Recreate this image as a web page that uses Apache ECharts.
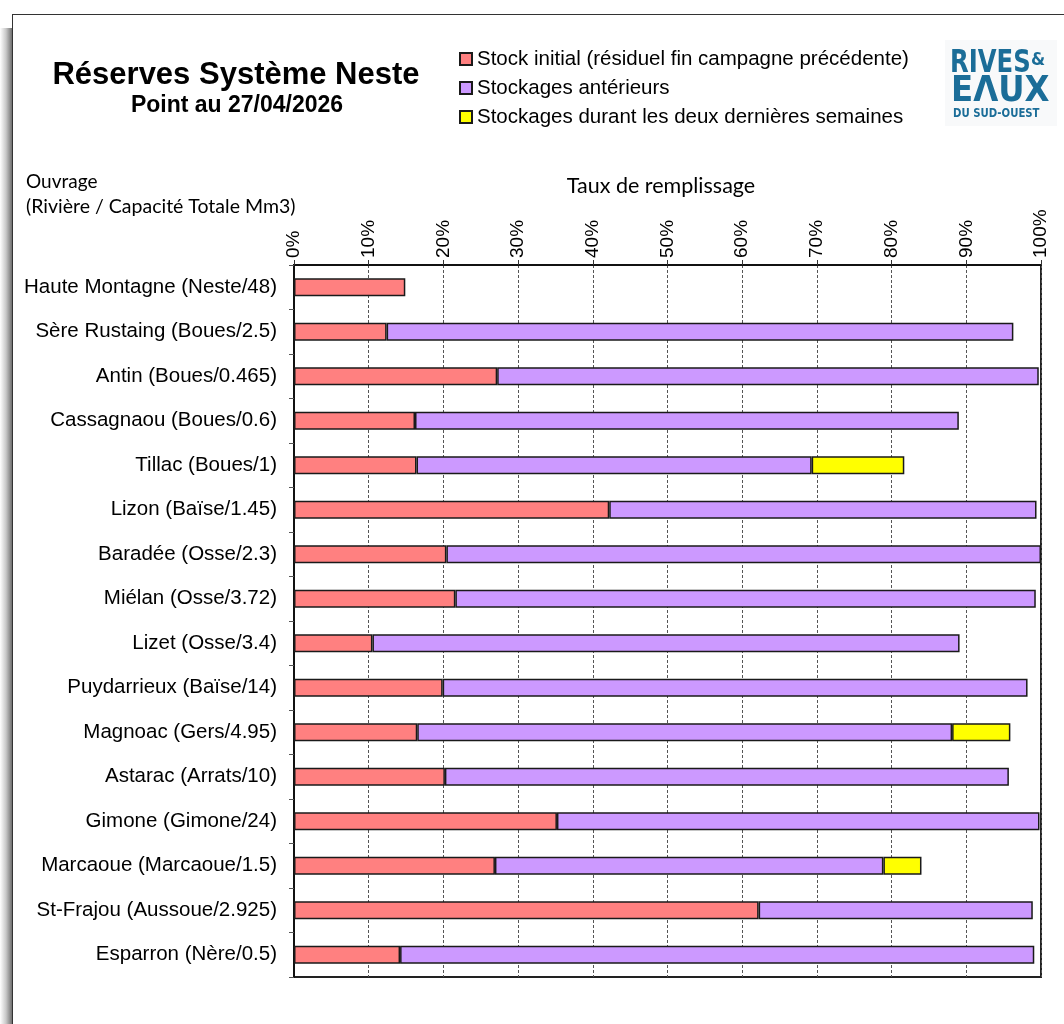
<!DOCTYPE html>
<html>
<head>
<meta charset="utf-8">
<script src="https://cdn.jsdelivr.net/npm/echarts@6/dist/echarts.min.js"></script>
<style>html,body{margin:0;padding:0;background:#fff;}#c{width:1064px;height:1024px;}</style>
</head>
<body>
<div id="c"></div>
<script>
const categories = [
  "Haute Montagne (Neste/48)",
  "Sère Rustaing (Boues/2.5)",
  "Antin (Boues/0.465)",
  "Cassagnaou (Boues/0.6)",
  "Tillac (Boues/1)",
  "Lizon (Baïse/1.45)",
  "Baradée (Osse/2.3)",
  "Miélan (Osse/3.72)",
  "Lizet (Osse/3.4)",
  "Puydarrieux (Baïse/14)",
  "Magnoac (Gers/4.95)",
  "Astarac (Arrats/10)",
  "Gimone (Gimone/24)",
  "Marcaoue (Marcaoue/1.5)",
  "St-Frajou (Aussoue/2.925)",
  "Esparron (Nère/0.5)"
];
const stockInitial = [14.9, 12.4, 27.2, 16.2, 16.4, 42.2, 20.4, 21.6, 10.5, 19.9, 16.5, 20.2, 35.2, 26.9, 62.2, 14.2];
const stockagesAnterieurs = [null, 83.9, 72.5, 72.8, 52.9, 57.2, 79.6, 77.7, 78.6, 78.3, 71.6, 75.5, 64.6, 52.0, 36.7, 84.9];
const stockagesRecents = [null, null, null, null, 12.4, null, null, null, null, null, 7.8, null, null, 5.1, null, null];
const xTicks = [0, 10, 20, 30, 40, 50, 60, 70, 80, 90, 100];
const seriesNames = [
  "Stock initial (résiduel fin campagne précédente)",
  "Stockages antérieurs",
  "Stockages durant les deux dernières semaines"
];
const seriesColors = ["#FF8080", "#CC99FF", "#FFFF00"];

const chart = echarts.init(document.getElementById('c'), null, {renderer: 'canvas'});
const barStyle = (c) => ({color: c, borderColor: '#1a1a1a', borderWidth: 1.5});
const mkSeries = (name, data, color) => ({
  name: name, type: 'bar', stack: 'total', data: data, barWidth: 18,
  itemStyle: barStyle(color), emphasis: {disabled: true}
});
const ARIAL = '"Liberation Sans", Arial, sans-serif';
const LOGO = '#1b6d98';

chart.setOption({
  animation: false,
  backgroundColor: '#ffffff',
  graphic: [
    {type: 'rect', left: 0, top: 28, shape: {width: 12, height: 1000},
     style: {fill: new echarts.graphic.LinearGradient(0, 0, 1, 0, [
       {offset: 0, color: '#ffffff'}, {offset: 0.5, color: '#c8c8c8'}, {offset: 1, color: '#707070'}])}},
    {type: 'line', shape: {x1: 12.5, y1: 14, x2: 12.5, y2: 1024}, style: {stroke: '#333', lineWidth: 1}},
    {type: 'line', shape: {x1: 12, y1: 14.5, x2: 1064, y2: 14.5}, style: {stroke: '#333', lineWidth: 1}},
    {type: 'text', x: 236, y: 75, style: {text: 'Réserves Système Neste', font: 'bold 31px ' + ARIAL, fill: '#000', align: 'center', verticalAlign: 'middle'}},
    {type: 'text', x: 237, y: 106, style: {text: 'Point au 27/04/2026', font: 'bold 23px ' + ARIAL, fill: '#000', align: 'center', verticalAlign: 'middle'}},
    {type: 'text', x: 26, y: 182, style: {text: 'Ouvrage', font: '19px Lato, sans-serif', fill: '#000', align: 'left', verticalAlign: 'middle'}},
    {type: 'text', x: 26, y: 207, style: {text: '(Rivière / Capacité Totale Mm3)', font: '19.5px Lato, sans-serif', fill: '#000', align: 'left', verticalAlign: 'middle'}},
    {type: 'text', x: 661, y: 186, style: {text: 'Taux de remplissage', font: '21.5px Lato, sans-serif', fill: '#000', align: 'center', verticalAlign: 'middle'}},
    {type: 'rect', shape: {x: 945, y: 40, width: 112, height: 86}, style: {fill: '#f8f9fa'}},
    {type: 'text', x: 950, y: 64, scaleX: 0.76, style: {text: 'RIVES', font: 'bold 32px "DejaVu Sans", sans-serif', fill: LOGO, align: 'left', verticalAlign: 'middle'}},
    {type: 'text', x: 1031, y: 60, scaleX: 0.9, style: {text: '&', font: 'bold 18px "DejaVu Sans", sans-serif', fill: LOGO, align: 'left', verticalAlign: 'middle'}},
    {type: 'text', x: 951, y: 92, scaleX: 0.9, style: {text: 'EΛUX', font: 'bold 36px "DejaVu Sans", sans-serif', fill: LOGO, align: 'left', verticalAlign: 'middle'}},
    {type: 'text', x: 953, y: 114, scaleX: 0.78, style: {text: 'DU SUD-OUEST', font: 'bold 13px "DejaVu Sans", sans-serif', fill: LOGO, align: 'left', verticalAlign: 'middle'}}
  ],
  legend: {
    left: 454, top: 43, orient: 'vertical', itemGap: 7,
    itemWidth: 12, itemHeight: 12, icon: 'rect',
    selectedMode: false,
    textStyle: {fontFamily: ARIAL, fontSize: 20.5, color: '#000', lineHeight: 22},
    data: seriesNames
  },
  grid: {left: 294, right: 23, top: 265, bottom: 47, show: true, borderColor: '#222', borderWidth: 2, backgroundColor: 'transparent'},
  xAxis: {
    type: 'value', position: 'top', min: 0, max: 100, interval: 10,
    axisLine: {show: true, lineStyle: {color: '#111', width: 2}},
    axisTick: {show: true, inside: false, length: 5, lineStyle: {color: '#333'}},
    axisLabel: {rotate: -90, margin: 7, formatter: (v) => xTicks.includes(v) ? v + '%' : '',
      fontFamily: ARIAL, fontSize: 19, color: '#000'},
    splitLine: {show: true, lineStyle: {color: '#555', type: [3, 2], width: 1}}
  },
  yAxis: {
    type: 'category', data: categories, inverse: true,
    axisLine: {show: true, lineStyle: {color: '#111', width: 2}},
    axisTick: {show: true, length: 5, lineStyle: {color: '#555'}},
    axisLabel: {margin: 17, fontFamily: ARIAL, fontSize: 20.5, color: '#000'},
    splitLine: {show: false}
  },
  series: [
    mkSeries(seriesNames[0], stockInitial, seriesColors[0]),
    mkSeries(seriesNames[1], stockagesAnterieurs, seriesColors[1]),
    mkSeries(seriesNames[2], stockagesRecents, seriesColors[2])
  ]
});
</script>
</body>
</html>
